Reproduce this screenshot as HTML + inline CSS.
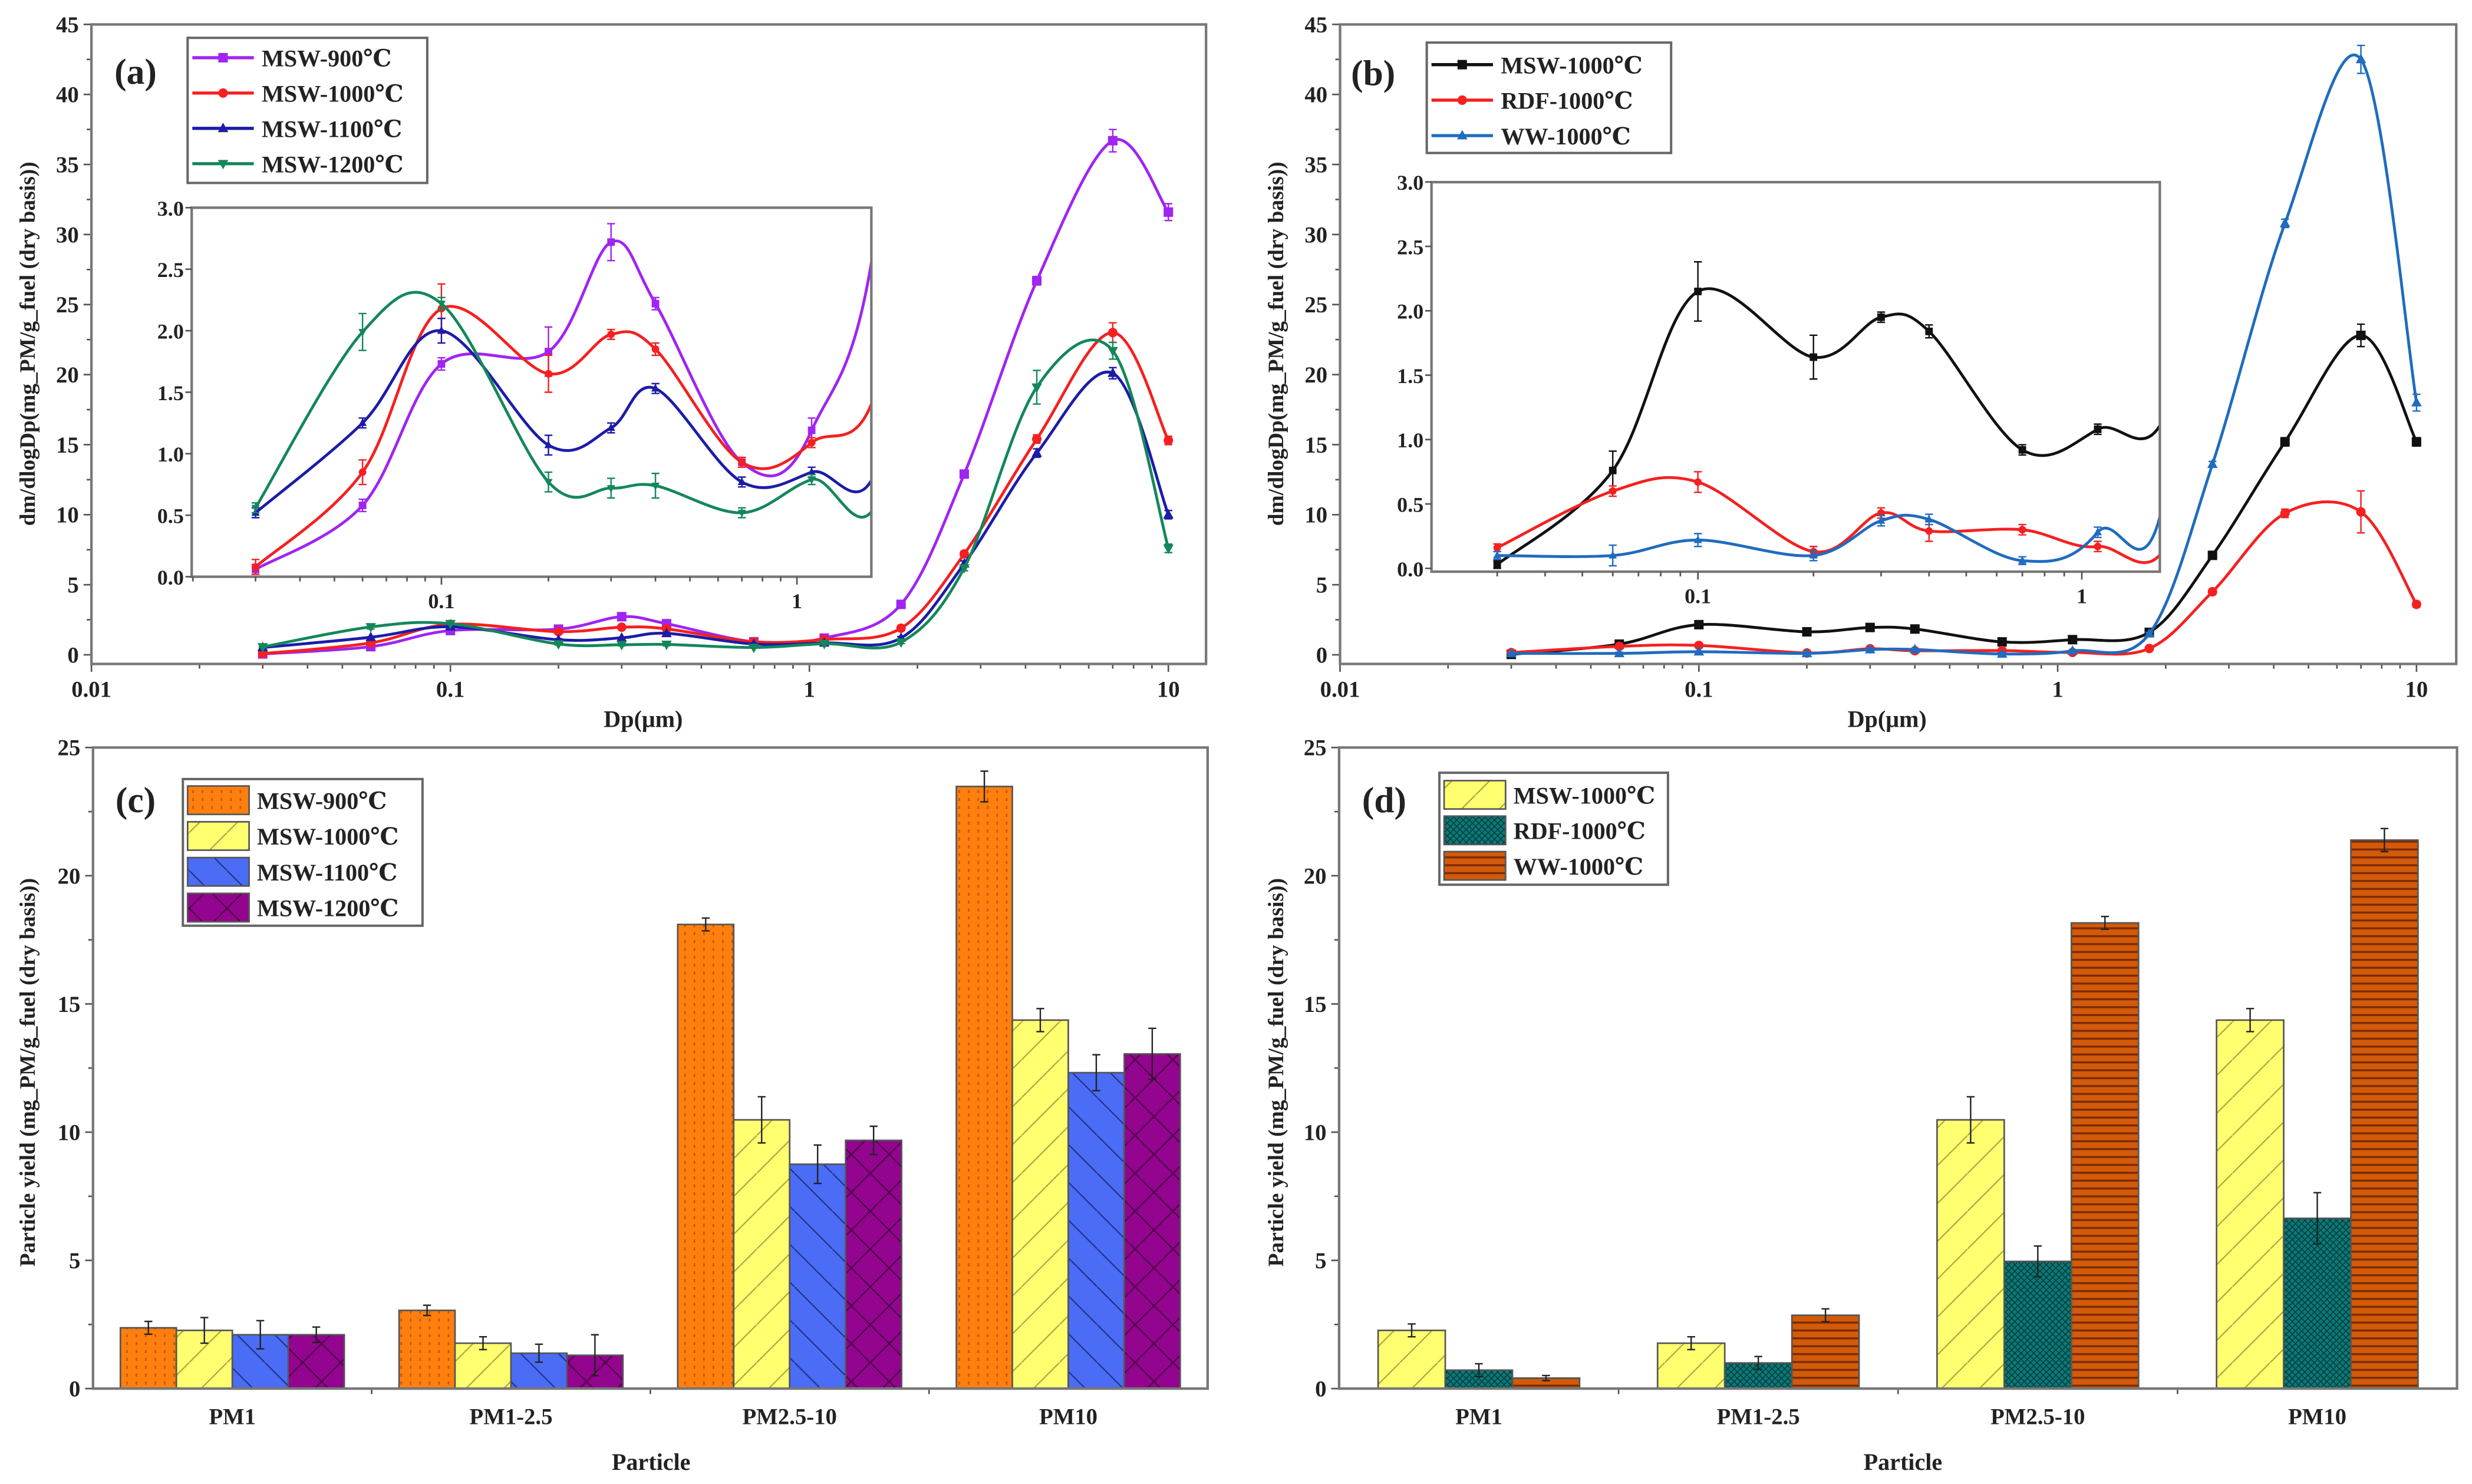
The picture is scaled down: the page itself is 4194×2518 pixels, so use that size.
<!DOCTYPE html>
<html>
<head>
<meta charset="utf-8">
<style>
html,body{margin:0;padding:0;background:#fff;}
svg{display:block;}
text{font-family:"Liberation Serif","DejaVu Serif",serif;font-weight:bold;fill:#222;}
</style>
</head>
<body>
<svg id="fig" xmlns="http://www.w3.org/2000/svg" width="4194" height="2518" viewBox="0 0 1568 941" preserveAspectRatio="none">
<defs>
  <pattern id="patOrange" patternUnits="userSpaceOnUse" width="6" height="5">
    <rect width="6" height="5" fill="#ff7f0e"/>
    <rect x="2" y="1" width="1" height="2" fill="#8a3a00" opacity="0.55"/>
  </pattern>
  <pattern id="patYellow" patternUnits="userSpaceOnUse" width="24" height="24">
    <rect width="24" height="24" fill="#ffff70"/>
    <path d="M0,24 L24,0" stroke="#b0a040" stroke-width="0.8"/>
  </pattern>
  <pattern id="patBlue" patternUnits="userSpaceOnUse" width="24" height="24">
    <rect width="24" height="24" fill="#4b6cf5"/>
    <path d="M0,0 L24,24" stroke="#223080" stroke-width="0.8"/>
  </pattern>
  <pattern id="patPurple" patternUnits="userSpaceOnUse" width="24" height="24">
    <rect width="24" height="24" fill="#93048f"/>
    <path d="M0,0 L24,24 M0,24 L24,0" stroke="#4a0045" stroke-width="0.8"/>
  </pattern>
  <pattern id="patTeal" patternUnits="userSpaceOnUse" width="4" height="4">
    <rect width="4" height="4" fill="#0a7a78"/>
    <path d="M0,0 L4,4 M0,4 L4,0" stroke="#063c3c" stroke-width="0.6"/>
  </pattern>
  <pattern id="patBrown" patternUnits="userSpaceOnUse" width="6" height="5">
    <rect width="6" height="5" fill="#d25a0a"/>
    <rect y="3" width="6" height="1.3" fill="#7a2c00"/>
  </pattern>
  <clipPath id="clipA"><rect x="58" y="15.5" width="707" height="405.5"/></clipPath>
  <clipPath id="clipB"><rect x="850" y="15.5" width="708" height="405.5"/></clipPath>
  <clipPath id="clipIA"><rect x="121.6" y="131.7" width="431.1" height="234"/></clipPath>
  <clipPath id="clipIB"><rect x="908" y="115.5" width="462" height="247"/></clipPath>
</defs>
<g id="root"></g>
</svg>
<script>
// ---------------- DATA ----------------
const dpSizes = [0.03,0.06,0.1,0.2,0.3,0.4,0.7,1.1,1.8,2.7,4.3,7.0,10];
const aNames = ["MSW-900℃","MSW-1000℃","MSW-1100℃","MSW-1200℃"];
const a900  = [0.06,0.58,1.73,1.83,2.72,2.22,0.93,1.19,3.6,12.9,26.7,36.7,31.6];
const a1000 = [0.08,0.85,2.18,1.65,1.97,1.85,0.93,1.09,1.9,7.2,15.4,23.0,15.3];
const a1100 = [0.52,1.25,2.0,1.07,1.21,1.53,0.77,0.85,1.2,6.5,14.4,20.1,10.0];
const a1200 = [0.56,1.99,2.22,0.77,0.72,0.74,0.52,0.79,0.9,6.2,19.1,21.7,7.6];
const aErr900  = [0.04,0.05,0.05,0.2,0.15,0.05,0.04,0.1,0.1,0.2,0.3,0.8,0.6];
const aErr1000 = [0.06,0.1,0.2,0.15,0.04,0.05,0.04,0.04,0.1,0.2,0.3,0.7,0.3];
const aErr1100 = [0.04,0.04,0.1,0.08,0.04,0.04,0.04,0.04,0.1,0.2,0.3,0.4,0.3];
const aErr1200 = [0.04,0.15,0.05,0.08,0.08,0.1,0.04,0.04,0.1,0.2,1.2,0.6,0.3];
const bNames = ["MSW-1000℃","RDF-1000℃","WW-1000℃"];
const bMSW = [0.03,0.76,2.15,1.64,1.95,1.84,0.92,1.08,1.6,7.1,15.2,22.8,15.2];
const bRDF = [0.16,0.6,0.67,0.13,0.43,0.29,0.3,0.17,0.45,4.5,10.1,10.2,3.6];
const bWW  = [0.1,0.1,0.22,0.1,0.37,0.38,0.06,0.28,1.5,13.6,30.8,42.5,18.0];
const bErrMSW = [0.03,0.15,0.23,0.17,0.04,0.05,0.04,0.04,0.1,0.2,0.3,0.8,0.3];
const bErrRDF = [0.03,0.04,0.08,0.04,0.04,0.08,0.04,0.04,0.1,0.2,0.3,1.5,0.2];
const bErrWW  = [0.03,0.08,0.05,0.04,0.04,0.04,0.03,0.04,0.1,0.2,0.3,1.0,0.6];
const mainYTicks = [0,5,10,15,20,25,30,35,40,45];
const insetYTicks = [0,0.5,1.0,1.5,2.0,2.5,3.0];
const logTickLabels = ["0.01","0.1","1","10"];
const particleCats = ["PM1","PM1-2.5","PM2.5-10","PM10"];
const c900  = [2.37,3.05,18.1,23.48];
const c1000 = [2.27,1.77,10.48,14.37];
const c1100 = [2.1,1.38,8.75,12.32];
const c1200 = [2.1,1.3,9.68,13.05];
const cErr900  = [0.25,0.2,0.25,0.6];
const cErr1000 = [0.5,0.25,0.9,0.45];
const cErr1100 = [0.55,0.35,0.75,0.7];
const cErr1200 = [0.3,0.8,0.55,1.0];
const dMSW = [2.27,1.77,10.48,14.37];
const dRDF = [0.72,1.0,4.96,6.64];
const dWW  = [0.41,2.86,18.16,21.39];
const dErrMSW = [0.25,0.25,0.9,0.45];
const dErrRDF = [0.25,0.25,0.6,1.0];
const dErrWW  = [0.1,0.25,0.25,0.45];
const barYTicks = [0,5,10,15,20,25];

// ---------------- HELPERS ----------------
const NS = "http://www.w3.org/2000/svg";
const root = document.getElementById("root");
function mk(tag, attrs, parent){
  const e = document.createElementNS(NS, tag);
  for (const k in attrs) e.setAttribute(k, attrs[k]);
  (parent||root).appendChild(e);
  return e;
}
function txt(s, x, y, size, anchor, parent, name){
  const t = mk("text", {x:x, y:y, "font-size":size, "text-anchor":anchor||"middle"}, parent);
  t.textContent = s;
  
  
  return t;
}
function logAxis(cfg){ // cfg: xRef (pixel of 10^lRef), lRef, dec, y0, ppu
  return {
    x: v => cfg.xRef + (Math.log10(v) - cfg.lRef) * cfg.dec,
    y: v => cfg.y0 - v * cfg.ppu
  };
}
function spline(pts){
  if (pts.length < 2) return "";
  let d = "M" + pts[0][0] + "," + pts[0][1];
  for (let i = 0; i < pts.length - 1; i++){
    const p0 = pts[i-1] || pts[i], p1 = pts[i], p2 = pts[i+1], p3 = pts[i+2] || p2;
    const c1x = p1[0] + (p2[0]-p0[0])/6, c1y = p1[1] + (p2[1]-p0[1])/6;
    const c2x = p2[0] - (p3[0]-p1[0])/6, c2y = p2[1] - (p3[1]-p1[1])/6;
    d += " C" + c1x + "," + c1y + " " + c2x + "," + c2y + " " + p2[0] + "," + p2[1];
  }
  return d;
}
function marker(shape, x, y, r, color, parent){
  let e;
  if (shape === "square") e = mk("rect", {x:x-r, y:y-r, width:2*r, height:2*r, fill:color}, parent);
  else if (shape === "circle") e = mk("circle", {cx:x, cy:y, r:r, fill:color}, parent);
  else if (shape === "up") e = mk("polygon", {points:`${x},${y-r*1.2} ${x-r*1.1},${y+r*0.8} ${x+r*1.1},${y+r*0.8}`, fill:color}, parent);
  else e = mk("polygon", {points:`${x},${y+r*1.2} ${x-r*1.1},${y-r*0.8} ${x+r*1.1},${y-r*0.8}`, fill:color}, parent);
  
  
  return e;
}
function errBar(x, y1, y2, color, cap, parent){
  const g = mk("path", {d:`M${x},${y1} L${x},${y2} M${x-cap},${y1} L${x+cap},${y1} M${x-cap},${y2} L${x+cap},${y2}`, stroke:color, "stroke-width":0.9, fill:"none"}, parent);
  
  
}
function frame(l, t, r, b, name){
  const f = mk("rect", {x:l, y:t, width:r-l, height:b-t, fill:"none", stroke:"#777", "stroke-width":1.6});
  
  
}
function logTicks(ax, lo, hi, yb, major, minor, labels, size, dy, parent){
  for (let e = lo; e <= hi; e++){
    for (let m = 1; m <= 9; m++){
      const v = m * Math.pow(10, e);
      const x = ax.x(v);
      if (x < ax.minX - 0.5 || x > ax.maxX + 0.5) continue;
      mk("line", {x1:x, y1:yb, x2:x, y2:yb + (m===1?major:minor), stroke:"#555", "stroke-width":1}, parent);
      if (m === 1 && labels){
        const idx = labels.findIndex(s => Math.abs(parseFloat(s) - v) < 1e-9);
        if (idx >= 0) txt(labels[idx], x, yb + dy, size, "middle", parent, "x-tick-label");
      }
    }
  }
}

// ---------------- LINE PANELS ----------------
function linePanel(o){
  const g = mk("g", {});
  
  
  const ax = logAxis(o.main); ax.minX = o.L; ax.maxX = o.R;
  frame(o.L, o.T, o.R, o.B, o.name + "-frame");
  // y ticks
  mainYTicks.forEach((v,i) => {
    const y = ax.y(v);
    mk("line", {x1:o.L-5, y1:y, x2:o.L, y2:y, stroke:"#555", "stroke-width":1}, g);
    if (i < mainYTicks.length-1){ const y2 = ax.y(v+2.5); mk("line", {x1:o.L-3, y1:y2, x2:o.L, y2:y2, stroke:"#555", "stroke-width":1}, g); }
    txt(String(v), o.L-8, y+5, 14.5, "end", g, "y-tick-label");
  });
  logTicks(ax, -2, 1, o.B, 5, 3, logTickLabels, 14.5, 21, g);
  txt("Dp(μm)", o.xTitleX, 461, 15, "middle", g, "x-axis-title");
  // series on main
  const mainG = mk("g", {"clip-path":`url(#${o.clipMain})`}, g);
  o.series.forEach(s => {
    const pts = dpSizes.map((d,i) => [ax.x(d), ax.y(s.v[i])]);
    const p = mk("path", {d:spline(pts), fill:"none", stroke:s.c, "stroke-width":1.8}, mainG);
    
    
    pts.forEach((pt,i) => {
      errBar(pt[0], ax.y(s.v[i]-s.e[i]), ax.y(s.v[i]+s.e[i]), s.c, 2.5, mainG);
      marker(s.m, pt[0], pt[1], 3, s.c, mainG);
    });
  });
  // inset
  const I = o.inset;
  const iax = logAxis(I.ax); iax.minX = I.L; iax.maxX = I.R;
  const ig = mk("g", {}, g);
  
  
  mk("rect", {x:I.L, y:I.T, width:I.R-I.L, height:I.B-I.T, fill:"#fff"}, ig);
  const ic = mk("g", {"clip-path":`url(#${I.clip})`}, ig);
  o.series.forEach(s => {
    const pts = dpSizes.map((d,i) => [iax.x(d), iax.y(s.v[i])]);
    const p = mk("path", {d:spline(pts), fill:"none", stroke:s.c, "stroke-width":1.8}, ic);
    
    
    pts.forEach((pt,i) => {
      if (s.v[i] > 3.2) return;
      errBar(pt[0], iax.y(s.v[i]-s.e[i]), iax.y(s.v[i]+s.e[i]), s.c, 2.5, ic);
      marker(s.m, pt[0], pt[1], 2.4, s.c, ic);
    });
  });
  const fr = mk("rect", {x:I.L, y:I.T, width:I.R-I.L, height:I.B-I.T, fill:"none", stroke:"#777", "stroke-width":1.6}, ig);
  
  
  insetYTicks.forEach(v => {
    const y = iax.y(v);
    mk("line", {x1:I.L-4, y1:y, x2:I.L, y2:y, stroke:"#555", "stroke-width":1}, ig);
    txt(v.toFixed(1), I.L-5, y+5, 13.5, "end", ig, "inset-y-tick-label");
  });
  logTicks(iax, -2, 0, I.B, 5, 3, ["0.1","1"], 13.5, 20, ig);
  // legend
  const Lg = o.legend;
  const lg = mk("g", {}, g);
  
  
  mk("rect", {x:Lg.x, y:Lg.y, width:Lg.w, height:Lg.h, fill:"#fff", stroke:"#666", "stroke-width":1.5}, lg);
  o.series.forEach((s,i) => {
    const y = Lg.y0 + i*Lg.dy;
    const e = mk("g", {}, lg);
    
    
    mk("line", {x1:Lg.x+3, y1:y, x2:Lg.x+42, y2:y, stroke:s.c, "stroke-width":2}, e);
    marker(s.m, Lg.x+22.5, y, 3, s.c, e);
    txt(s.n, Lg.x+47, y+5.5, 15, "start", e, "legend-label");
  });
  txt(o.tag, o.tagX, o.tagY, 23, "middle", g, "panel-label");
}

linePanel({
  name:"panel-a", L:58, T:15.5, R:765, B:421, clipMain:"clipA",
  main:{xRef:58, lRef:-2, dec:227.7, y0:415.2, ppu:8.883},
  inset:{L:121.6, T:131.7, R:552.7, B:365.7, clip:"clipIA", ax:{xRef:280, lRef:-1, dec:225.5, y0:365.7, ppu:78}},
  legend:{x:119, y:24, w:152, h:92, y0:36.6, dy:22.4},
  xTitleX:408, tag:"(a)", tagX:86, tagY:53,
  series:[
    {n:aNames[0], v:a900,  e:aErr900,  c:"#a024f2", m:"square"},
    {n:aNames[1], v:a1000, e:aErr1000, c:"#f52020", m:"circle"},
    {n:aNames[2], v:a1100, e:aErr1100, c:"#1c1ca8", m:"up"},
    {n:aNames[3], v:a1200, e:aErr1200, c:"#14875a", m:"down"}
  ]
});
linePanel({
  name:"panel-b", L:850, T:15.5, R:1558, B:421, clipMain:"clipB",
  main:{xRef:850, lRef:-2, dec:227.6, y0:415.2, ppu:8.883},
  inset:{L:908, T:115.5, R:1370, B:362.5, clip:"clipIB", ax:{xRef:1077, lRef:-1, dec:243.5, y0:360.4, ppu:81.67}},
  legend:{x:905, y:27, w:155, h:70, y0:41, dy:22.5},
  xTitleX:1197, tag:"(b)", tagX:871, tagY:54,
  series:[
    {n:bNames[0], v:bMSW, e:bErrMSW, c:"#111111", m:"square"},
    {n:bNames[1], v:bRDF, e:bErrRDF, c:"#f52020", m:"circle"},
    {n:bNames[2], v:bWW,  e:bErrWW,  c:"#1f6cc0", m:"up"}
  ]
});

// ---------------- BAR PANELS ----------------
function barPanel(o){
  const g = mk("g", {});
  
  
  const y = v => 880.5 - v * 16.26;
  const band = (o.R - o.L) / particleCats.length;
  const xc = i => o.L + (i + 0.5) * band;
  frame(o.L, 474, o.R, 880.5, o.name + "-frame");
  barYTicks.forEach((v,i) => {
    mk("line", {x1:o.L-5, y1:y(v), x2:o.L, y2:y(v), stroke:"#555", "stroke-width":1}, g);
    if (i < barYTicks.length-1) mk("line", {x1:o.L-3, y1:y(v+2.5), x2:o.L, y2:y(v+2.5), stroke:"#555", "stroke-width":1}, g);
    txt(String(v), o.L-8, y(v)+5, 14.5, "end", g, "y-tick-label");
  });
  particleCats.forEach((c,i) => {
    txt(c, xc(i), 903, 14.5, "middle", g, "x-tick-label");
    if (i > 0) mk("line", {x1:o.L+i*band, y1:880.5, x2:o.L+i*band, y2:884, stroke:"#555", "stroke-width":1}, g);
  });
  txt("Particle", o.titleX, 932, 15, "middle", g, "x-axis-title");
  const n = o.series.length;
  o.series.forEach((s,si) => {
    s.v.forEach((v,i) => {
      const x = xc(i) - n*o.bw/2 + si*o.bw;
      const r = mk("rect", {x:x, y:y(v), width:o.bw, height:880.5-y(v), fill:`url(#${s.p})`, stroke:"#555", "stroke-width":1}, g);
      
      
      errBar(x+o.bw/2, y(v-s.e[i]), y(v+s.e[i]), "#222", 2.5, g);
    });
  });
  const Lg = o.legend;
  const lg = mk("g", {}, g);
  
  
  mk("rect", {x:Lg.x, y:Lg.y, width:Lg.w, height:Lg.h, fill:"#fff", stroke:"#666", "stroke-width":1.5}, lg);
  o.series.forEach((s,i) => {
    const yy = Lg.y0 + i*Lg.dy;
    const e = mk("g", {}, lg);
    
    
    mk("rect", {x:Lg.x+3, y:yy-9, width:39, height:18, fill:`url(#${s.p})`, stroke:"#555", "stroke-width":1}, e);
    txt(s.n, Lg.x+47, yy+5.5, 15, "start", e, "legend-label");
  });
  txt(o.tag, o.tagX, o.tagY, 23, "middle", g, "panel-label");
}
barPanel({
  name:"panel-c", L:59, R:766, bw:35.5, titleX:413, tag:"(c)", tagX:86, tagY:515,
  legend:{x:116, y:494, w:152, h:93, y0:507.4, dy:22.7},
  series:[
    {n:aNames[0], v:c900,  e:cErr900,  p:"patOrange"},
    {n:aNames[1], v:c1000, e:cErr1000, p:"patYellow"},
    {n:aNames[2], v:c1100, e:cErr1100, p:"patBlue"},
    {n:aNames[3], v:c1200, e:cErr1200, p:"patPurple"}
  ]
});
barPanel({
  name:"panel-d", L:849.4, R:1558.5, bw:42.6, titleX:1207, tag:"(d)", tagX:878, tagY:515,
  legend:{x:913, y:490, w:145, h:71, y0:504, dy:22.5},
  series:[
    {n:bNames[0], v:dMSW, e:dErrMSW, p:"patYellow"},
    {n:bNames[1], v:dRDF, e:dErrRDF, p:"patTeal"},
    {n:bNames[2], v:dWW,  e:dErrWW,  p:"patBrown"}
  ]
});

// ---------------- Y-AXIS TITLES ----------------
function yTitle(s, x, y, name){
  const t = mk("text", {x:0, y:0, "font-size":14, "text-anchor":"middle", transform:`translate(${x},${y}) rotate(-90)`});
  t.textContent = s;
  
  
}
yTitle("dm/dlogDp(mg_PM/g_fuel (dry basis))", 22, 218, "y-axis-title-a");
yTitle("dm/dlogDp(mg_PM/g_fuel (dry basis))", 814, 218, "y-axis-title-b");
yTitle("Particle yield (mg_PM/g_fuel (dry basis))", 22, 680, "y-axis-title-c");
yTitle("Particle yield (mg_PM/g_fuel (dry basis))", 814, 680, "y-axis-title-d");
</script>
</body>
</html>
